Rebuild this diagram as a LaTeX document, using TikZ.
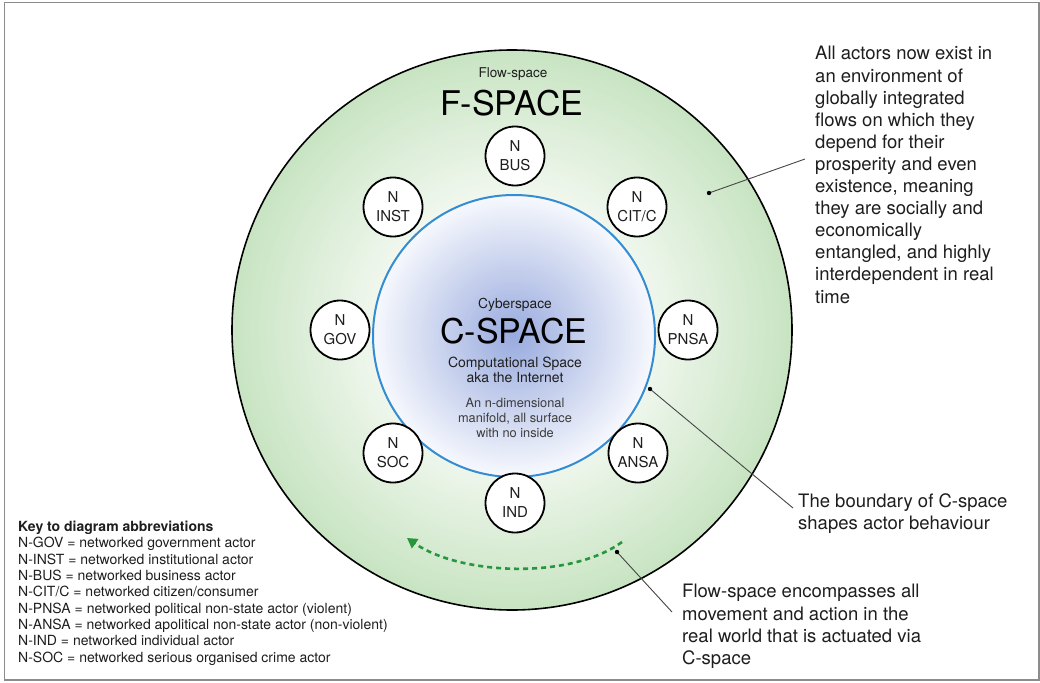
\documentclass[tikz,border=0pt]{standalone}
\usepackage{fontspec}
\setmainfont{TeX Gyre Heros}
\usetikzlibrary{arrows.meta}
\definecolor{ringin}{RGB}{240,247,238}
\definecolor{ringout}{RGB}{200,228,194}
\definecolor{cblue}{RGB}{152,170,222}
\definecolor{cwhite}{RGB}{246,248,253}
\definecolor{cborder}{RGB}{52,140,210}
\definecolor{flowgreen}{RGB}{40,150,60}
\definecolor{txt}{RGB}{30,30,30}
\definecolor{softtxt}{RGB}{60,60,60}
\definecolor{framegray}{RGB}{140,140,140}
\definecolor{leader}{RGB}{70,70,70}
\begin{document}
\begin{tikzpicture}[x=1pt,y=-1pt,
  actor/.style={circle,draw=black,line width=1.8pt,fill=white,minimum size=59pt,inner sep=0pt,align=center,font=\fontsize{15}{19}\selectfont,text=txt},
  note/.style={align=left,anchor=north west,inner sep=0pt,font=\fontsize{18.5}{22.1}\selectfont,text=txt},
  leaderline/.style={draw=leader,line width=0.9pt},
  bigtitle/.style={font=\fontsize{34}{40}\selectfont,text=black,inner sep=0pt},
]
\useasboundingbox (0,0) rectangle (1040,682);
\fill[white] (0,0) rectangle (1040,682);
\draw[framegray,line width=1.5pt] (4.5,2.5) rectangle (1039,680);
% F-space ring
\foreach \r in {280,278,...,140}{
  \pgfmathsetmacro\p{100*(\r-140)/140}
  \fill[ringout!\p!ringin] (512,330) circle[radius=\r pt];
}
\draw[black,line width=1.6pt] (512,330) circle[radius=280pt];
% C-space disc
\foreach \r in {141,139,...,1}{
  \pgfmathsetmacro\p{100*(\r/141)}
  \fill[cwhite!\p!cblue] (514,336) circle[radius=\r pt];
}
\draw[cborder,line width=2pt] (514,336) circle[radius=141pt];
% titles
\node[font=\fontsize{13.5}{16}\selectfont,text=txt,anchor=base,inner sep=0pt] (flowlabel) at (513,78) {Flow-space};
\node[bigtitle] (fspace) at (512,103.5) {F-SPACE};
\node[font=\fontsize{13.8}{16}\selectfont,text=txt,anchor=base,inner sep=0pt] (cyberlabel) at (515,308) {Cyberspace};
\node[bigtitle] (cspace) at (514,331.5) {C-SPACE};
\node[font=\fontsize{14}{15}\selectfont,text=txt,align=center,anchor=north,inner sep=0pt] (comp) at (515,356.5) {Computational Space\\aka the Internet};
\node[font=\fontsize{12.8}{14.8}\selectfont,text=softtxt,align=center,anchor=north,inner sep=0pt] (manifold) at (515,398) {An n-dimensional\\manifold, all surface\\with no inside};
% actors
\node[actor] (bus) at (515,156) {N\\BUS};
\node[actor] (cit) at (637,207) {N\\CIT/C};
\node[actor] (pnsa) at (688,330) {N\\PNSA};
\node[actor] (ansa) at (638,453) {N\\ANSA};
\node[actor] (ind) at (515,503) {N\\IND};
\node[actor] (soc) at (393,453) {N\\SOC};
\node[actor] (gov) at (340,330) {N\\GOV};
\node[actor] (inst) at (393,207) {N\\INST};
% flow arrow
\coordinate (fs) at (622,542);
\coordinate (fe) at (407,538);
\draw[flowgreen,line width=2.6pt,dash pattern=on 5pt off 4pt,-{Triangle[length=10pt,width=11pt]}] (fs) .. controls (570,580) and (460,575) .. (fe);
% notes
\node[note] (allnote) at (815,46.3) {All actors now exist in\\an environment of\\globally integrated\\flows on which they\\depend for their\\prosperity and even\\existence, meaning\\they are socially and\\economically\\entangled, and highly\\interdependent in real\\time};
\node[note] (boundnote) at (798,493.3) {The boundary of C-space\\shapes actor behaviour};
\node[note] (flownote) at (682,584.3) {Flow-space encompasses all\\movement and action in the\\real world that is actuated via\\C-space};
% leaders
\coordinate (d1) at (709,193); \coordinate (e1) at (805,159);
\coordinate (d2) at (650,389); \coordinate (e2) at (793,508);
\coordinate (d3) at (617,552); \coordinate (e3) at (672,612);
\draw[leaderline] (d1) -- (e1);
\draw[leaderline] (d2) -- (e2);
\draw[leaderline] (d3) -- (e3);
\fill[black] (d1) circle[radius=2.2pt];
\fill[black] (d2) circle[radius=2.2pt];
\fill[black] (d3) circle[radius=2.2pt];
% key
\node[align=left,anchor=north west,inner sep=0pt,font=\fontsize{14}{16.3}\selectfont,text=txt] (key) at (18,521) {\textbf{Key to diagram abbreviations}\\N-GOV = networked government actor\\N-INST = networked institutional actor\\N-BUS = networked business actor\\N-CIT/C = networked citizen/consumer\\N-PNSA = networked political non-state actor (violent)\\N-ANSA = networked apolitical non-state actor (non-violent)\\N-IND = networked individual actor\\N-SOC = networked serious organised crime actor};
\end{tikzpicture}
\end{document}
